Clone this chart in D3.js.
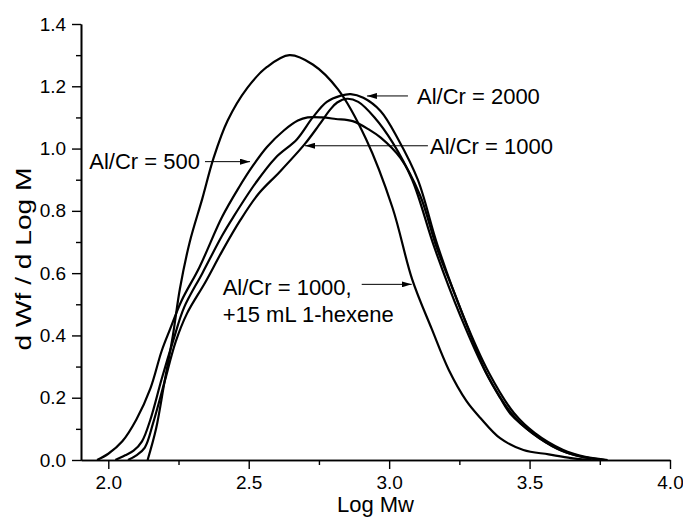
<!DOCTYPE html>
<html>
<head>
<meta charset="utf-8">
<script src="https://cdn.jsdelivr.net/npm/d3@7"></script>
<style>
  html, body { margin: 0; padding: 0; background: #fff; }
  svg { display: block; font-family: "Liberation Sans", Arial, sans-serif; }
</style>
</head>
<body>
<svg id="chart" width="683" height="517"></svg>
<script>
// Molecular weight distributions (Log Mw vs d Wf / d Log M)
const xTicks = [2.0, 2.5, 3.0, 3.5, 4.0];
const xMinorTicks = [2.25, 2.75, 3.25, 3.75];
const yTicks = [0.0, 0.2, 0.4, 0.6, 0.8, 1.0, 1.2, 1.4];
const yMinorTicks = [0.1, 0.3, 0.5, 0.7, 0.9, 1.1, 1.3];

const ratio500 = [
  [1.96,0],[2.00,0.02],[2.05,0.06],[2.10,0.13],[2.15,0.23],[2.19,0.35],[2.22,0.42],
  [2.26,0.51],[2.325,0.62],[2.405,0.78],[2.465,0.875],[2.515,0.945],[2.565,1.005],
  [2.625,1.058],[2.675,1.09],[2.71,1.10],[2.76,1.10],[2.81,1.095],[2.87,1.088],[2.93,1.06],
  [2.97,1.035],[3.04,0.97],[3.11,0.85],[3.17,0.68],[3.235,0.53],[3.295,0.39],[3.345,0.28],
  [3.395,0.2],[3.435,0.145],[3.508,0.088],[3.598,0.036],[3.678,0.012],[3.758,0]
];
const ratio2000 = [
  [2.025,0],[2.06,0.015],[2.09,0.03],[2.12,0.06],[2.15,0.13],[2.19,0.26],[2.23,0.38],
  [2.27,0.49],[2.335,0.60],[2.405,0.72],[2.445,0.78],[2.525,0.89],[2.595,0.97],[2.672,1.03],
  [2.728,1.10],[2.778,1.15],[2.828,1.17],[2.863,1.175],[2.908,1.163],[2.97,1.12],[3.032,1.03],
  [3.102,0.90],[3.172,0.69],[3.265,0.46],[3.355,0.28],[3.445,0.15],[3.518,0.087],[3.618,0.033],
  [3.698,0.01],[3.778,0]
];
const ratio1000 = [
  [2.07,0],[2.10,0.015],[2.13,0.04],[2.16,0.12],[2.20,0.25],[2.24,0.38],[2.28,0.47],
  [2.345,0.57],[2.405,0.67],[2.47,0.77],[2.535,0.855],[2.61,0.925],[2.70,1.015],[2.75,1.075],
  [2.79,1.125],[2.815,1.148],[2.85,1.16],[2.89,1.15],[2.948,1.10],[3.012,1.02],[3.082,0.90],
  [3.162,0.68],[3.255,0.46],[3.345,0.28],[3.435,0.15],[3.508,0.087],[3.608,0.033],[3.688,0.01],
  [3.768,0]
];
const ratio1000Hexene = [
  [2.14,0],[2.17,0.1],[2.20,0.25],[2.23,0.40],[2.255,0.55],[2.29,0.70],[2.335,0.84],
  [2.375,0.97],[2.425,1.09],[2.495,1.195],[2.565,1.262],[2.645,1.30],[2.728,1.27],
  [2.818,1.19],[2.918,1.03],[3.012,0.81],[3.082,0.58],[3.152,0.42],[3.212,0.29],[3.275,0.19],
  [3.325,0.135],[3.395,0.07],[3.478,0.032],[3.568,0.018],[3.648,0.006],[3.72,0]
];
const seriesList = [ratio500, ratio2000, ratio1000, ratio1000Hexene];

// Annotations: text anchor, arrow start and arrow tip, in data units
const notes = [
  { lines: ["Al/Cr = 2000"], tx: 3.099, ty: 1.143, anchor: "start", from: [3.067, 1.169], to: [2.921, 1.169] },
  { lines: ["Al/Cr = 1000"], tx: 3.1455, ty: 0.983, anchor: "start", from: [3.138, 1.009], to: [2.7004, 1.009] },
  { lines: ["Al/Cr = 500"], tx: 2.3265, ty: 0.934, anchor: "end", from: [2.3443, 0.958], to: [2.5046, 0.958] },
  { lines: ["Al/Cr = 1000,", "+15 mL 1-hexene"], tx: 2.4073, ty: 0.530, anchor: "start", from: [2.9023, 0.564], to: [3.0803, 0.564] }
];

const svg = d3.select("#chart");
const plotLeft = 81, plotRight = 670, plotTop = 24, plotBottom = 460;

const x = d3.scaleLinear().domain([1.9028, 4.0]).range([plotLeft, plotRight]);
const y = d3.scaleLinear().domain([0, 1.4]).range([plotBottom, plotTop]);

svg.append("defs").append("marker")
  .attr("id", "head")
  .attr("viewBox", "0 0 10 6")
  .attr("refX", 10).attr("refY", 3)
  .attr("markerWidth", 10).attr("markerHeight", 6)
  .attr("markerUnits", "userSpaceOnUse")
  .attr("orient", "auto")
  .append("path").attr("d", "M0,0 L10,3 L0,6 Z").attr("fill", "#000");

// Axes
const xAxis = d3.axisBottom(x).tickValues(xTicks).tickFormat(d3.format(".1f")).tickSize(9).tickSizeOuter(0);
const xMinor = d3.axisBottom(x).tickValues(xMinorTicks).tickFormat("").tickSize(5).tickSizeOuter(0);
const yAxis = d3.axisLeft(y).tickValues(yTicks).tickFormat(d3.format(".1f")).tickSize(9).tickSizeOuter(0);
const yMinor = d3.axisLeft(y).tickValues(yMinorTicks).tickFormat("").tickSize(5).tickSizeOuter(0);

function styleAxis(g) {
  g.select(".domain").attr("stroke", "#000").attr("stroke-width", 1.6);
  g.selectAll(".tick line").attr("stroke", "#000").attr("stroke-width", 1.4);
  g.selectAll(".tick text").attr("fill", "#000").attr("font-size", 19)
    .attr("font-family", "'Liberation Sans', Arial, sans-serif");
}

svg.append("g").attr("transform", `translate(0,${plotBottom})`).call(xMinor).call(styleAxis);
svg.append("g").attr("transform", `translate(0,${plotBottom})`).call(xAxis).call(styleAxis)
  .selectAll(".tick text").attr("dy", "0.9em");
svg.append("g").attr("transform", `translate(${plotLeft},0)`).call(yMinor).call(styleAxis);
svg.append("g").attr("transform", `translate(${plotLeft},0)`).call(yAxis).call(styleAxis)
  .selectAll(".tick text").attr("dx", "-0.15em");

// Axis titles
svg.append("text")
  .attr("x", (plotLeft + plotRight) / 2).attr("y", 512)
  .attr("text-anchor", "middle").attr("font-size", 22).attr("fill", "#000")
  .text("Log Mw");
svg.append("text")
  .attr("transform", `translate(31,259) rotate(-90)`)
  .attr("text-anchor", "middle").attr("font-size", 22).attr("fill", "#000")
  .attr("textLength", 183).attr("lengthAdjust", "spacingAndGlyphs")
  .text("d Wf / d Log M");

// Curves
const line = d3.line()
  .x(d => x(d[0])).y(d => y(d[1]))
  .curve(d3.curveCatmullRom.alpha(0.5));

svg.append("g").selectAll("path")
  .data(seriesList)
  .join("path")
  .attr("d", line)
  .attr("fill", "none")
  .attr("stroke", "#000")
  .attr("stroke-width", 2.2)
  .attr("stroke-linejoin", "round");

// Labels with arrows
const ann = svg.append("g");
notes.forEach(n => {
  const t = ann.append("text")
    .attr("x", x(n.tx)).attr("y", y(n.ty))
    .attr("text-anchor", n.anchor)
    .attr("font-size", 22).attr("fill", "#000");
  n.lines.forEach((s, i) => {
    t.append("tspan").attr("x", x(n.tx)).attr("dy", i === 0 ? 0 : 26.7).text(s);
  });
  ann.append("line")
    .attr("x1", x(n.from[0])).attr("y1", y(n.from[1]))
    .attr("x2", x(n.to[0])).attr("y2", y(n.to[1]))
    .attr("stroke", "#000").attr("stroke-width", 1)
    .attr("marker-end", "url(#head)");
});
</script>
</body>
</html>
